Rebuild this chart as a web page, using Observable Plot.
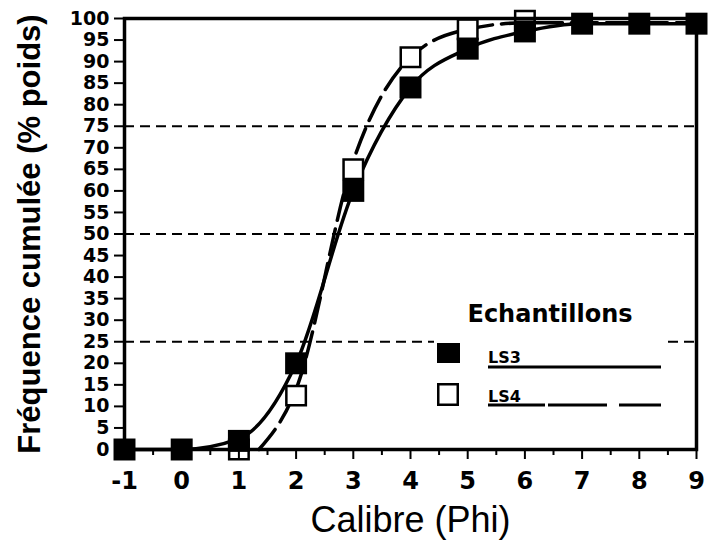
<!DOCTYPE html>
<html>
<head>
<meta charset="utf-8">
<script src="https://cdn.jsdelivr.net/npm/d3@7"></script>
<script src="https://cdn.jsdelivr.net/npm/@observablehq/plot@0.6"></script>
<style>
  body { margin: 0; background: #fff; }
  #wrap { position: relative; width: 717px; height: 544px; font-family: "Liberation Sans", Arial, sans-serif; }
  #legend { position: absolute; left: 434px; top: 292px; width: 233px; height: 122px; background: #fff; }
</style>
</head>
<body>
<div id="wrap"></div>
<script>
// Data
const phi = [-1, 0, 1, 2, 3, 4, 5, 6, 7, 8, 9];
const ls3 = [0, 0, 2, 20, 60, 84, 93, 97, 98.8, 98.8, 98.8];
const ls4 = [0, 0, 0, 12.5, 65, 91, 97.5, 99.5, 98.8, 98.8, 98.8];
// fitted curves
const ls3CurveX = [-1, 0, 1, 2, 3, 4, 5, 6, 7, 8, 9];
const ls3CurveY = [0, 0, 2.5, 20, 60, 84, 93, 97, 98.8, 98.8, 98.8];
const ls4CurveX = [1.35, 2, 3, 4, 5, 6, 7, 8, 9];
const ls4CurveY = [0, 14, 67, 91, 97.5, 99, 99, 99, 99];
const guideLines = [25, 50, 75];
const yTicks = d3.range(0, 101, 5);
const xTicks = d3.range(-1, 10, 1);
const xMinor = d3.range(-0.5, 9, 1);
const seriesNames = ["LS3", "LS4"];
const legendTitle = "Echantillons";

const pts3 = phi.map((x, i) => ({x, y: ls3[i]}));
const pts4 = phi.map((x, i) => ({x, y: ls4[i]})).filter(d => d.x >= 1 && d.x <= 6);
const c3 = ls3CurveX.map((x, i) => ({x, y: ls3CurveY[i]}));
const c4 = ls4CurveX.map((x, i) => ({x, y: ls4CurveY[i]}));

const font = '"Liberation Sans", Arial, sans-serif';
const wide = '"DejaVu Sans", sans-serif';

const chart = Plot.plot({
  width: 717,
  height: 544,
  marginLeft: 124,
  marginRight: 21,
  marginTop: 18,
  marginBottom: 95,
  style: {fontFamily: font, background: "#fff", color: "#000"},
  x: {domain: [-1, 9]},
  y: {domain: [0, 100]},
  marks: [
    Plot.ruleY(guideLines, {stroke: "#000", strokeWidth: 2, strokeDasharray: "10,6"}),
    Plot.line(c3, {x: "x", y: "y", curve: "monotone-x", stroke: "#000", strokeWidth: 3.5}),
    Plot.line(c4, {x: "x", y: "y", curve: "monotone-x", stroke: "#000", strokeWidth: 3.5, strokeDasharray: "26,9"}),
    Plot.dot(pts4, {x: "x", y: "y", symbol: "square", r: 11, fill: "#fff", stroke: "#000", strokeWidth: 2.5}),
    Plot.dot(pts3, {x: "x", y: "y", symbol: "square", r: 12.4, fill: "#000", stroke: "none"}),
    Plot.frame({stroke: "#000", strokeWidth: 3.5}),
    Plot.axisY({ticks: yTicks, tickSize: 10, tickPadding: 5, tickFormat: d => d, fontSize: 19, fontWeight: "bold", fontFamily: wide, label: null, strokeWidth: 2}),
    Plot.axisX({ticks: xMinor, tickSize: 6, tickFormat: () => "", label: null, strokeWidth: 2}),
    Plot.axisX({ticks: xTicks, tickSize: 10, tickPadding: 12, tickFormat: d => d, fontSize: 24, fontWeight: "bold", fontFamily: wide, label: null, strokeWidth: 2}),
    Plot.text(["Calibre (Phi)"], {frameAnchor: "bottom", dy: 82, fontSize: 36, text: d => d}),
    Plot.text(["Fréquence cumulée (% poids)"], {frameAnchor: "left", textAnchor: "middle", dx: -94, rotate: -90, fontSize: 31, fontWeight: "bold", text: d => d})
  ]
});

const wrap = document.getElementById("wrap");
wrap.appendChild(chart);

const legend = document.createElement("div");
legend.id = "legend";
legend.innerHTML = `
  <svg width="233" height="122" style="position:absolute;left:0;top:0">
    <text x="116" y="30" text-anchor="middle" font-size="24" font-weight="bold" font-family='${wide}'>${legendTitle}</text>
    <rect x="3" y="51" width="23" height="20" fill="#000"/>
    <rect x="4.25" y="92.25" width="19.5" height="20.5" fill="#fff" stroke="#000" stroke-width="2.5"/>
    <text x="54" y="71" font-size="16" font-weight="bold" font-family='${wide}'>${seriesNames[0]}</text>
    <line x1="54" x2="227" y1="75" y2="75" stroke="#000" stroke-width="3"/>
    <text x="54" y="110" font-size="16" font-weight="bold" font-family='${wide}'>${seriesNames[1]}</text>
    <line x1="54" x2="227" y1="113" y2="113" stroke="#000" stroke-width="3" stroke-dasharray="57,3,59,12,45"/>
  </svg>`;
wrap.appendChild(legend);
</script>
</body>
</html>
